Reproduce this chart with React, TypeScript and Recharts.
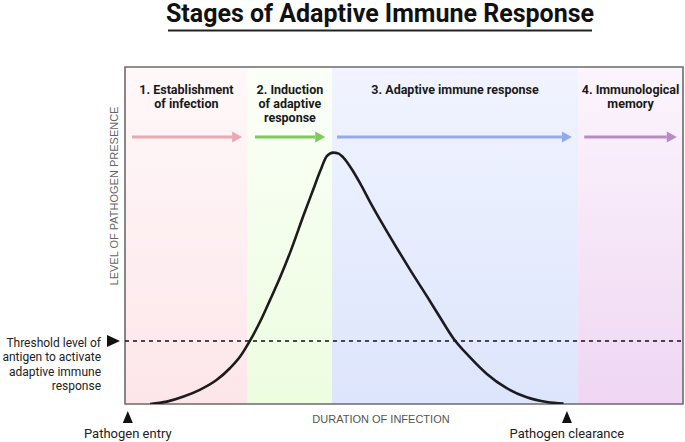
import React from 'react';
import { ComposedChart, Line, XAxis, YAxis, ReferenceArea, ReferenceLine, ReferenceDot } from 'recharts';

// time axis 0-100, level axis 0-100 (schematic units)
const CURVE_TIME = [
  4.5, 7.5, 10.5, 13.4, 16.4, 18.8, 20.6, 22.4, 24.2, 26.0, 27.8, 29.6, 32.0, 33.7, 35.0, 36.2, 37.3, 38.3,
  39.1, 40.9, 42.1, 43.9, 46.3, 48.7, 51.1, 54.1, 56.5, 58.8, 61.8, 64.8, 68.4, 72.0, 75.6, 78.6,
];
const CURVE_LEVEL = [
  0, 0.7, 2.2, 4.2, 7.1, 10.6, 14.0, 18.8, 24.4, 30.9, 37.6, 45.0, 56.0, 63.5, 69.2, 73.6, 74.6, 74.3,
  73.2, 69.0, 65.6, 60.0, 53.0, 46.3, 39.8, 32.0, 25.6, 19.6, 13.9, 9.0, 4.7, 2.0, 0.6, 0.15,
];

const STAGE_LABELS = [
  ['1. Establishment', 'of infection'],
  ['2. Induction', 'of adaptive', 'response'],
  ['3. Adaptive immune response'],
  ['4. Immunological', 'memory'],
];
const STAGE_START = [0, 22.0, 37.1, 81.2];
const STAGE_END = [22.0, 37.1, 81.2, 100];
const ARROW_FROM = [1.25, 23.3, 38.0, 82.3];
const ARROW_TO = [19.2, 34.1, 78.3, 97.1];
const ARROW_LEVEL = 79.2;

const THRESHOLD = 18.7;
const THRESHOLD_TEXT = ['Threshold level of', 'antigen to activate', 'adaptive immune', 'response'];
const ENTRY_TIME = 0.5;
const CLEARANCE_TIME = 79.2;

const STAGE_TOP = ['#fff8f9', '#fbfff8', '#f1f4ff', '#fcf5fd'];
const STAGE_BOTTOM = ['#fde6ea', '#edfde0', '#dde5fc', '#efd6f3'];
const ARROW_COLORS = ['#e8a9b4', '#80c95e', '#94aaf0', '#b98bc5'];

const FONT = 'Roboto, sans-serif';

const curveData = CURVE_TIME.map((t, i) => ({ t, level: CURVE_LEVEL[i] }));

const StageLabel = ({ viewBox, lines }: any) => {
  const cx = viewBox.x + viewBox.width / 2;
  return (
    <text x={cx} y={viewBox.y + 27} textAnchor="middle" fontFamily={FONT} fontSize={12.5} fontWeight="bold" fill="#1a1a1a">
      {lines.map((l: string, i: number) => (
        <tspan key={i} x={cx} dy={i === 0 ? 0 : 14}>{l}</tspan>
      ))}
    </text>
  );
};

const ThresholdLabel = ({ viewBox }: any) => {
  const x = viewBox.x;
  const y = viewBox.y;
  return (
    <g>
      <polygon points={`${x - 18},${y - 6} ${x - 18},${y + 6} ${x - 5},${y}`} fill="#111" />
      <text x={x - 24} y={y + 6} textAnchor="end" fontFamily={FONT} fontSize={12} fill="#222">
        {THRESHOLD_TEXT.map((l, i) => (
          <tspan key={i} x={x - 24} dy={i === 0 ? 0 : 14.5}>{l}</tspan>
        ))}
      </text>
    </g>
  );
};

const Marker = (label: string) => (props: any) => {
  const { cx, cy } = props;
  return (
    <g>
      <polygon points={`${cx},${cy + 7} ${cx - 5},${cy + 19} ${cx + 5},${cy + 19}`} fill="#111" />
      <text x={cx} y={cy + 34} textAnchor="middle" fontFamily={FONT} fontSize={13} fill="#222">{label}</text>
    </g>
  );
};

const arrowHead = (color: string) => (props: any) => {
  const { cx, cy, index } = props;
  if (index !== 1) return <g key={index} />;
  return <polygon key={index} points={`${cx},${cy - 5.5} ${cx},${cy + 5.5} ${cx + 10},${cy}`} fill={color} />;
};

export default function App() {
  return (
    <div style={{ position: 'relative', width: 685, height: 442, background: '#fff' }}>
      <style>{'body{margin:0}'}</style>
      <ComposedChart width={685} height={442} margin={{ top: 67, right: 2, bottom: 38, left: 125 }}>
        <defs>
          {STAGE_TOP.map((c, i) => (
            <linearGradient key={i} id={`stage${i}`} x1="0" y1="0" x2="0" y2="1">
              <stop offset="0%" stopColor={c} />
              <stop offset="100%" stopColor={STAGE_BOTTOM[i]} />
            </linearGradient>
          ))}
        </defs>
        <XAxis dataKey="t" type="number" domain={[0, 100]} hide allowDataOverflow />
        <YAxis type="number" domain={[0, 100]} hide allowDataOverflow />
        {STAGE_START.map((s, i) => (
          <ReferenceArea
            key={`bg${i}`}
            x1={s}
            x2={STAGE_END[i]}
            y1={0}
            y2={100}
            fill={`url(#stage${i})`}
            fillOpacity={1}
            stroke="none"
            label={<StageLabel lines={STAGE_LABELS[i]} />}
          />
        ))}
        <ReferenceLine
          y={THRESHOLD}
          stroke="#111"
          strokeWidth={1.3}
          strokeDasharray="4 4"
          label={<ThresholdLabel />}
        />
        <Line
          data={curveData}
          dataKey="level"
          type="monotone"
          stroke="#1c1c1c"
          strokeWidth={2.6}
          dot={false}
          isAnimationActive={false}
        />
        {ARROW_FROM.map((f, i) => (
          <Line
            key={`arrow${i}`}
            data={[{ t: f, v: ARROW_LEVEL }, { t: ARROW_TO[i], v: ARROW_LEVEL }]}
            dataKey="v"
            type="linear"
            stroke={ARROW_COLORS[i]}
            strokeWidth={3}
            dot={arrowHead(ARROW_COLORS[i])}
            activeDot={false}
            isAnimationActive={false}
          />
        ))}
        <ReferenceArea x1={0} x2={100} y1={0} y2={100} fill="none" stroke="#6b6b6b" strokeWidth={1.6} />
        <ReferenceDot x={ENTRY_TIME} y={0} ifOverflow="visible" shape={Marker('Pathogen entry')} />
        <ReferenceDot x={CLEARANCE_TIME} y={0} ifOverflow="visible" shape={Marker('Pathogen clearance')} />
      </ComposedChart>
      <svg width={685} height={442} style={{ position: 'absolute', left: 0, top: 0, pointerEvents: 'none' }}>
        <text x={380} y={21.5} textAnchor="middle" fontFamily={FONT} fontSize={25} fontWeight="bold" fill="#111">
          Stages of Adaptive Immune Response
        </text>
        <line x1={168} x2={592} y1={30.5} y2={30.5} stroke="#222" strokeWidth={2} />
        <text x={118} y={196} transform="rotate(-90 118 196)" textAnchor="middle" fontFamily="'Liberation Sans', Arial, sans-serif" fontSize={11} fill="#666">
          LEVEL OF PATHOGEN PRESENCE
        </text>
        <text x={381} y={423} textAnchor="middle" fontFamily="'Liberation Sans', Arial, sans-serif" fontSize={11} fill="#555">
          DURATION OF INFECTION
        </text>
      </svg>
    </div>
  );
}
